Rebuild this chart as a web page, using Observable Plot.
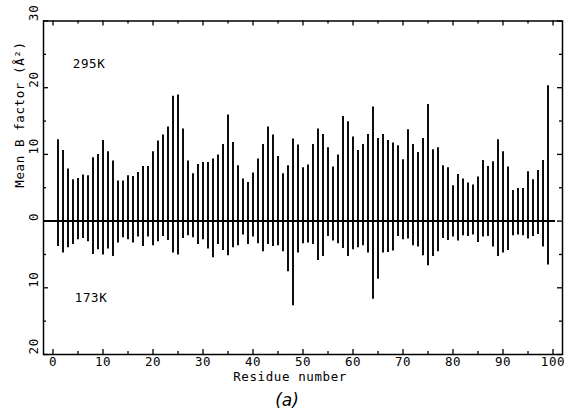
<!DOCTYPE html>
<html>
<head>
<meta charset="utf-8">
<script src="https://cdn.jsdelivr.net/npm/d3@7"></script>
<script src="https://cdn.jsdelivr.net/npm/@observablehq/plot@0.6"></script>
<style>
  html, body { margin: 0; padding: 0; background: #fff; }
  #chart { width: 564px; }
  #chart svg { display: block; }
  #cap { width: 574px; height: 24px; line-height: 24px; margin-top: 0px; text-align: center;
         font-family: "DejaVu Sans", sans-serif; font-style: italic; font-size: 17px; color: #000; }
  svg text { letter-spacing: 0.6px; }
</style>
</head>
<body>
<div id="chart"></div>
<div id="cap">(a)</div>
<script>
// Residue numbers 1..99
const residues = [1,2,3,4,5,6,7,8,9,10,11,12,13,14,15,16,17,18,19,20,21,22,23,24,25,26,27,28,29,30,31,32,33,34,35,36,37,38,39,40,41,42,43,44,45,46,47,48,49,50,51,52,53,54,55,56,57,58,59,60,61,62,63,64,65,66,67,68,69,70,71,72,73,74,75,76,77,78,79,80,81,82,83,84,85,86,87,88,89,90,91,92,93,94,95,96,97,98,99];
// Mean B factor at 295K (plotted upwards)
const b295 = [12.2,10.6,7.8,6.2,6.4,6.9,6.8,9.5,10.0,12.1,10.4,9.0,6.0,6.0,6.8,6.7,7.3,8.2,8.2,10.4,12.0,12.9,14.1,18.7,18.9,13.8,9.0,7.1,8.5,8.8,8.8,9.3,9.9,11.5,15.9,11.8,8.3,6.3,5.8,7.2,9.3,11.5,14.1,12.9,9.7,7.1,8.3,12.3,11.4,8.0,8.4,11.5,13.8,13.0,11.0,8.1,9.9,15.7,14.9,12.6,10.6,11.5,13.0,17.1,12.4,13.0,12.1,11.7,11.3,9.2,13.7,11.5,10.3,12.4,17.5,10.7,11.0,8.3,8.0,5.3,7.0,6.3,5.7,5.4,6.6,9.1,8.2,8.9,12.2,10.4,8.1,4.6,4.9,4.9,7.4,6.2,7.6,9.1,20.3];
// Mean B factor at 173K (plotted downwards)
const b173 = [3.8,4.8,4.0,3.5,2.8,2.6,3.1,5.0,4.3,5.1,4.2,5.3,3.3,2.5,2.8,3.3,2.4,3.8,2.4,3.7,3.1,2.3,2.9,4.8,5.1,2.6,2.2,2.5,3.5,2.8,4.2,5.5,3.5,4.4,5.2,4.0,3.7,2.1,3.5,2.4,3.4,4.6,3.5,3.8,3.7,4.6,7.6,12.7,4.8,3.4,3.3,3.5,5.9,5.3,2.3,3.0,3.4,4.1,5.3,4.3,4.0,3.7,4.8,11.7,8.7,4.8,4.7,4.5,2.3,2.8,2.7,3.7,3.9,5.2,6.7,5.3,4.6,2.6,2.9,2.4,3.0,2.2,2.3,2.1,3.2,2.4,2.3,3.9,5.3,4.8,4.4,2.2,2.1,2.2,2.7,2.3,2.0,3.9,6.6];
// Tick values
const xTicks = [0,10,20,30,40,50,60,70,80,90,100];
const xMinor = [5,15,25,35,45,55,65,75,85,95];
const yTicks = [-20,-10,0,10,20,30];
const yMinor = [-15,-5,5,15,25];
const seriesLabels = ["295K", "173K"];
const xTitle = "Residue number";
const yTitle = "Mean B factor (Å²)";

const up = residues.map((r, i) => ({r, v: b295[i]}));
const down = residues.map((r, i) => ({r, v: -b173[i]}));

const W = 564, H = 388;
const mL = 43, mR = 2, mT = 20.5, mB = 34;
const pw = W - mL - mR, ph = H - mT - mB;
const font = "DejaVu Sans Mono, monospace";

const chart = Plot.plot({
  width: W, height: H,
  marginLeft: mL, marginRight: mR, marginTop: mT, marginBottom: mB,
  style: {fontFamily: font, fontSize: "12px", color: "#000", background: "#fff"},
  x: {domain: [-1.9, 101.9], axis: null},
  y: {domain: [-20, 30], axis: null},
  marks: [
    Plot.ruleX(up, {x: "r", y1: 0, y2: "v", stroke: "#000", strokeWidth: 1.9}),
    Plot.ruleX(down, {x: "r", y1: 0, y2: "v", stroke: "#000", strokeWidth: 1.9}),
    Plot.ruleY([0], {x1: -1.9, x2: 100.5, stroke: "#000", strokeWidth: 2}),
    Plot.frame({stroke: "#000", strokeWidth: 1.5}),
    // bottom ticks (inward)
    Plot.tickX(xTicks, {x: d => d, insetTop: ph - 5, stroke: "#000", strokeWidth: 1.3}),
    Plot.tickX(xMinor, {x: d => d, insetTop: ph - 3, stroke: "#000", strokeWidth: 1.3}),
    // top ticks (inward)
    Plot.tickX(xTicks, {x: d => d, insetBottom: ph - 5, stroke: "#000", strokeWidth: 1.3}),
    Plot.tickX(xMinor, {x: d => d, insetBottom: ph - 3, stroke: "#000", strokeWidth: 1.3}),
    // left ticks
    Plot.tickY(yTicks, {y: d => d, insetRight: pw - 5, stroke: "#000", strokeWidth: 1.3}),
    Plot.tickY(yMinor, {y: d => d, insetRight: pw - 3, stroke: "#000", strokeWidth: 1.3}),
    // right ticks
    Plot.tickY(yTicks, {y: d => d, insetLeft: pw - 5, stroke: "#000", strokeWidth: 1.3}),
    Plot.tickY(yMinor, {y: d => d, insetLeft: pw - 3, stroke: "#000", strokeWidth: 1.3}),
    // x tick labels
    Plot.text(xTicks, {x: d => d, frameAnchor: "bottom", dy: 11, text: d => String(d), fontSize: 12.5, fill: "#000"}),
    // y tick labels (rotated)
    Plot.text(yTicks, {y: d => d, frameAnchor: "left", dx: -10, rotate: -90, text: d => String(Math.abs(d)), fontSize: 12.5, fill: "#000"}),
    // axis titles
    Plot.text([xTitle], {frameAnchor: "bottom", dx: -13, dy: 26, text: d => d, fontSize: 12.5, fill: "#000"}),
    Plot.text([yTitle], {frameAnchor: "left", dx: -24, rotate: -90, text: d => d, fontSize: 12.5, fill: "#000"}),
    // series labels
    Plot.text([seriesLabels[0]], {x: 7.2, y: 23.5, text: d => d, fontSize: 12.5, fill: "#000"}),
    Plot.text([seriesLabels[1]], {x: 7.6, y: -11.6, text: d => d, fontSize: 12.5, fill: "#000"})
  ]
});

document.getElementById("chart").appendChild(chart);
</script>
</body>
</html>
